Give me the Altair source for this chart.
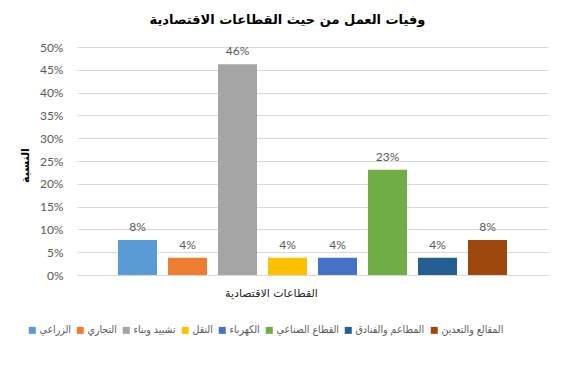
import altair as alt
import pandas as pd

sectors = ["الزراعي", "التجاري", "تشييد وبناء", "النقل", "الكهرباء",
           "القطاع الصناعي", "المطاعم والفنادق", "المقالع والتعدين"]
shares = [0.077, 0.038, 0.462, 0.038, 0.038, 0.231, 0.038, 0.077]
colors = ["#5B9BD5", "#ED7D31", "#A5A5A5", "#FFC000", "#4472C4",
          "#70AD47", "#255E91", "#9E480E"]
y_ticks = [0, 0.05, 0.10, 0.15, 0.20, 0.25, 0.30, 0.35, 0.40, 0.45, 0.50]

df = pd.DataFrame({"sector": sectors, "share": shares})

arabic_font = "DejaVu Sans"
legend_font = "DejaVu Sans Condensed"
num_font = "Lato"

x_enc = alt.X(
    "sector:N", sort=sectors,
    scale=alt.Scale(paddingInner=0.22, paddingOuter=0.82),
    axis=alt.Axis(labels=False, ticks=False, domain=True, domainColor="#D9D9D9",
                  title="القطاعات الاقتصادية", titleFont=arabic_font,
                  titleFontSize=11, titleFontWeight="normal", titleColor="#262626",
                  titleX=194, titleY=18, titleAlign="center", titleBaseline="middle"),
)
y_enc = alt.Y(
    "share:Q", scale=alt.Scale(domain=[0, 0.5]),
    axis=alt.Axis(format=".0%", values=y_ticks, ticks=False, domain=False,
                  labelOverlap=False, tickCount=12,
                  gridColor="#D9D9D9", labelColor="#595959", labelFont=num_font,
                  labelFontSize=12, labelPadding=14,
                  title="النسبة", titleFont=arabic_font, titleFontSize=11,
                  titleFontWeight="bold", titleColor="#000000",
                  titleX=-52, titleY=118, titleAlign="center", titleBaseline="middle"),
)

base = alt.Chart(df)
bars = base.mark_bar().encode(
    x=x_enc, y=y_enc,
    color=alt.Color("sector:N", sort=sectors,
                    scale=alt.Scale(domain=sectors, range=colors),
                    legend=alt.Legend(orient="none", legendX=-50, legendY=278,
                                      direction="horizontal", title=None,
                                      symbolType="square", symbolSize=49,
                                      symbolStrokeWidth=0, labelFont=legend_font,
                                      labelFontSize=10.5, labelColor="#595959",
                                      labelOffset=2, columnPadding=4)),
)
text = base.mark_text(baseline="bottom", dy=-6, color="#595959",
                      font=num_font, fontSize=12).encode(
    x=x_enc,
    y=y_enc,
    text=alt.Text("share:Q", format=".0%"),
)

chart = (bars + text).properties(
    width=471, height=228,
    title=alt.TitleParams("وفيات العمل من حيث القطاعات الاقتصادية",
                          font=arabic_font, fontSize=13, fontWeight="bold",
                          color="#000000", anchor="middle", dx=-25, offset=14),
    padding={"left": 69, "top": 39, "right": 10, "bottom": 80},
    autosize="none",
).configure_view(stroke=None)

chart.save("out.html", embed_options={"renderer": "svg", "actions": False})
